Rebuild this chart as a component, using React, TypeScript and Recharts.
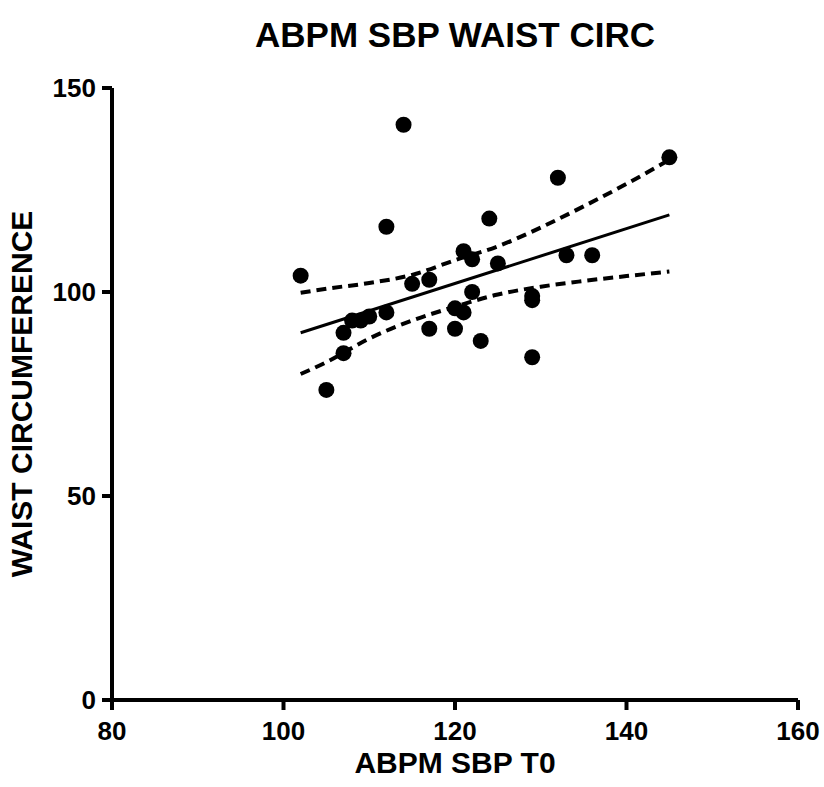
import React from "react";
import {
  ComposedChart,
  Scatter,
  Line,
  XAxis,
  YAxis,
  Label,
} from "recharts";

const sbpT0 = [114, 145, 132, 124, 112, 102, 121, 122, 125, 133, 136, 115, 117, 122, 129, 129, 120, 121, 112, 108, 109, 110, 107, 117, 120, 123, 107, 129, 105];
const waistCirc = [141, 133, 128, 118, 116, 104, 110, 108, 107, 109, 109, 102, 103, 100, 99, 98, 96, 95, 95, 93, 93, 94, 90, 91, 91, 88, 85, 84, 76];

const fitX = [102, 145];
const fitY = [90, 118.9];

const bandX = [102, 105, 110, 115, 120, 125, 130, 135, 140, 145];
const bandUpper = [99.8, 100.8, 102.2, 104.2, 107.8, 111.2, 115.8, 121, 126.5, 132.4];
const bandLower = [79.9, 82.8, 88.6, 93, 96.4, 99.4, 101.3, 102.7, 103.9, 105];

const xTicks = [80, 100, 120, 140, 160];
const yTicks = [0, 50, 100, 150];

const points = sbpT0.map((x, i) => ({ x, y: waistCirc[i] }));
const fit = fitX.map((x, i) => ({ x, y: fitY[i] }));
const upper = bandX.map((x, i) => ({ x, y: bandUpper[i] }));
const lower = bandX.map((x, i) => ({ x, y: bandLower[i] }));

const font = '"Liberation Sans", Arial, sans-serif';

const XTick = (p: any) => (
  <text
    x={p.x}
    y={p.y + 28}
    textAnchor="middle"
    fontFamily={font}
    fontWeight={700}
    fontSize={26}
    fill="#000"
  >
    {p.payload.value}
  </text>
);

const YTick = (p: any) => (
  <text
    x={p.x - 4}
    y={p.y + 9}
    textAnchor="end"
    fontFamily={font}
    fontWeight={700}
    fontSize={26}
    fill="#000"
  >
    {p.payload.value}
  </text>
);

export default function App() {
  return (
    <div style={{ position: "absolute", left: 0, top: 0, width: 824, height: 787, background: "#fff" }}>
      <div
        style={{
          position: "absolute",
          left: 155,
          width: 600,
          top: 15,
          textAlign: "center",
          fontFamily: font,
          fontWeight: 700,
          fontSize: 35,
          lineHeight: "40px",
          color: "#000",
        }}
      >
        ABPM SBP WAIST CIRC
      </div>
      <ComposedChart
        width={824}
        height={787}
        margin={{ top: 88, right: 26, bottom: 37, left: 52 }}
      >
        <XAxis
          type="number"
          dataKey="x"
          domain={[80, 160]}
          ticks={xTicks}
          allowDataOverflow
          height={50}
          tick={<XTick />}
          tickSize={10}
          axisLine={{ stroke: "#000", strokeWidth: 4 }}
          tickLine={{ stroke: "#000", strokeWidth: 4 }}
        >
          <Label
            value="ABPM SBP T0"
            position="bottom"
            offset={2}
            style={{ fontSize: 30, fontWeight: 700, fill: "#000", fontFamily: font }}
          />
        </XAxis>
        <YAxis
          type="number"
          dataKey="y"
          domain={[0, 150]}
          ticks={yTicks}
          allowDataOverflow
          width={60}
          tick={<YTick />}
          tickSize={10}
          axisLine={{ stroke: "#000", strokeWidth: 4 }}
          tickLine={{ stroke: "#000", strokeWidth: 4 }}
        >
          <Label
            value="WAIST CIRCUMFERENCE"
            angle={-90}
            position="left"
            offset={31}
            style={{ fontSize: 30, fontWeight: 700, fill: "#000", fontFamily: font, textAnchor: "middle" }}
          />
        </YAxis>
        <Line
          data={upper}
          dataKey="y"
          type="monotone"
          stroke="#000"
          strokeWidth={4}
          strokeDasharray="10 6"
          dot={false}
          isAnimationActive={false}
        />
        <Line
          data={lower}
          dataKey="y"
          type="monotone"
          stroke="#000"
          strokeWidth={4}
          strokeDasharray="10 6"
          dot={false}
          isAnimationActive={false}
        />
        <Line
          data={fit}
          dataKey="y"
          type="linear"
          stroke="#000"
          strokeWidth={3}
          dot={false}
          isAnimationActive={false}
        />
        <Scatter
          data={points}
          fill="#000"
          shape={(p: any) => <circle cx={p.cx} cy={p.cy} r={8} fill="#000" />}
          isAnimationActive={false}
        />
      </ComposedChart>
    </div>
  );
}
